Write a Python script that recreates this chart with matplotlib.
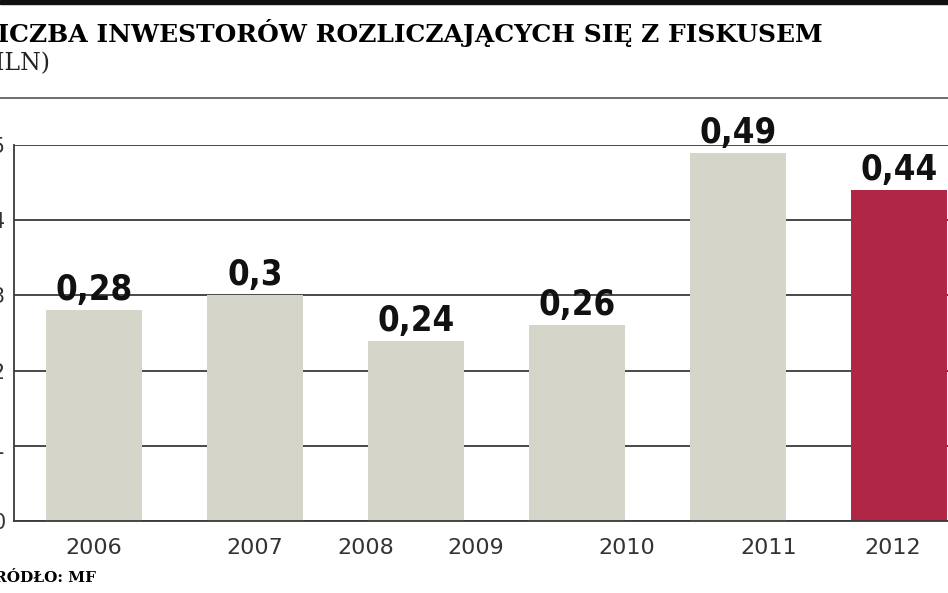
import matplotlib
matplotlib.use("Agg")
import matplotlib.pyplot as plt

VALUES = [0.28, 0.3, 0.24, 0.26, 0.49, 0.44]
VALUE_LABELS = ["0,28", "0,3", "0,24", "0,26", "0,49", "0,44"]
YEARS = ["2006", "2007", "2008", "2009", "2010", "2011", "2012"]
YEAR_POS = [0.0, 1.0, 1.69, 2.37, 3.31, 4.19, 4.96]
YTICKS = [0, 0.1, 0.2, 0.3, 0.4, 0.5]
YTICK_LABELS = ["0", "0,1", "0,2", "0,3", "0,4", "0,5"]

GREY = "#d5d5ca"
RED = "#b02645"
LINE = "#3a3a3a"

W, H = 948, 593
fig = plt.figure(figsize=(W / 100, H / 100), dpi=100)

# black bar at top, grey rule under the title
fig.add_artist(plt.Rectangle((0, 1 - 4 / H), 1, 4 / H, color="#111111",
                             transform=fig.transFigure))
fig.add_artist(plt.Line2D([0, 1], [1 - 98 / H] * 2, color="#555555", lw=1.2,
                          transform=fig.transFigure))
# the reference is cropped at the left edge, so these start off-canvas
fig.text(-0.021, 1 - 33 / H, "LICZBA INWESTORÓW ROZLICZAJĄCYCH SIĘ Z FISKUSEM",
         family="DejaVu Serif", weight="bold", fontsize=18, va="center")
fig.text(-0.03, 1 - 64 / H, "(MLN)", family="DejaVu Serif", fontsize=17,
         va="center", color="#222222")
fig.text(-0.018, 1 - 578 / H, "ŹRÓDŁO: MF", family="DejaVu Serif",
         weight="bold", fontsize=11, va="center")

ax = fig.add_axes([14 / W, 1 - 521 / H, (W - 14) / W, (521 - 145) / H])
x = list(range(len(VALUES)))
colors = [GREY] * (len(VALUES) - 1) + [RED]
ax.bar(x, VALUES, width=96 / 161, color=colors, zorder=2)
for xi, v, lab in zip(x, VALUES, VALUE_LABELS):
    ax.text(xi, v + 0.004, lab, ha="center", va="bottom", fontsize=25,
            weight="bold", family="DejaVu Sans", fontstretch="condensed",
            color="#111111")

ax.set_xlim(-80 / 161, (W - 14 - 80) / 161)
ax.set_ylim(0, 0.5)
ax.set_yticks(YTICKS)
ax.set_yticklabels(YTICK_LABELS, fontsize=15, color="#333333")
ax.tick_params(axis="y", length=0, pad=6)
ax.yaxis.grid(True, color=LINE, lw=1.3, zorder=0)
ax.set_axisbelow(True)
ax.set_xticks(YEAR_POS)
ax.set_xticklabels(YEARS, fontsize=16, color="#333333")
ax.tick_params(axis="x", length=0, pad=12)
for s in ["top", "right"]:
    ax.spines[s].set_visible(False)
ax.spines["left"].set_color(LINE)
ax.spines["bottom"].set_color(LINE)
ax.spines["left"].set_linewidth(1.3)
ax.spines["bottom"].set_linewidth(1.3)

fig.savefig("out.png", dpi=100)
